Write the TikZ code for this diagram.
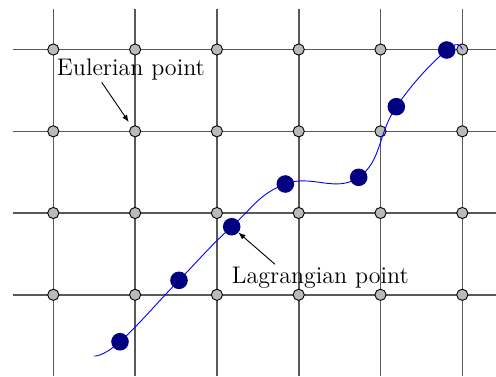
\documentclass[tikz,border=0pt]{standalone}
\usetikzlibrary{arrows.meta}
\definecolor{navyblue}{RGB}{0,0,128}
\begin{document}
\begin{tikzpicture}[x=0.5pt,y=-0.5pt,
  gridline/.style={draw=black!65,line width=0.8pt},
  gpt/.style={circle,draw=black,line width=0.45pt,fill=black!27,minimum size=5.6pt,inner sep=0pt,outer sep=0pt},
  lpt/.style={circle,fill=navyblue,minimum size=8.8pt,inner sep=0pt,outer sep=0pt},
  lbl/.style={font=\fontsize{12}{14}\selectfont,inner sep=0pt,anchor=base},
  arr/.style={-{Latex[length=3.6pt,width=2.8pt]},line width=0.45pt},
  traj/.style={blue,line width=0.45pt}]
\useasboundingbox (0,0) rectangle (496,376);
% grid lines
\foreach \x in {53.3,135.1,216.9,298.7,380.5,462.3}
  \draw[gridline] (\x,9) -- (\x,376);
\foreach \y in {49.5,131.3,213,294.8}
  \draw[gridline] (12.7,\y) -- (496,\y);
% grid points
\foreach \x [count=\i] in {53.3,135.1,216.9,298.7,380.5,462.3}
  \foreach \y [count=\j] in {49.5,131.3,213,294.8}
    \node[gpt] (g\i\j) at (\x,\y) {};
% trajectory
\draw[traj] plot[smooth,tension=0.75] coordinates {(94,356) (120,341.7) (179,280.3) (231.7,226.7) (285.3,184) (358.7,177.3) (396.3,106.7) (446.7,50) (462.3,49.5)};
% Lagrangian points
\node[lpt] (p1) at (120,341.7) {};
\node[lpt] (p2) at (179,280.3) {};
\node[lpt] (p3) at (231.7,226.7) {};
\node[lpt] (p4) at (285.3,184) {};
\node[lpt] (p5) at (358.7,177.3) {};
\node[lpt] (p6) at (396.3,106.7) {};
\node[lpt] (p7) at (446.7,50) {};
% labels
\node[lbl] (eul) at (130.9,75) {Eulerian point};
\node[lbl] (lag) at (320.3,283) {Lagrangian point};
\coordinate (ea) at (101.7,82.3);
\coordinate (la) at (275,264.3);
\draw[arr,shorten >=2.8pt] (ea) -- (g22);
\draw[arr] (la) -- (p3);
\end{tikzpicture}
\end{document}
